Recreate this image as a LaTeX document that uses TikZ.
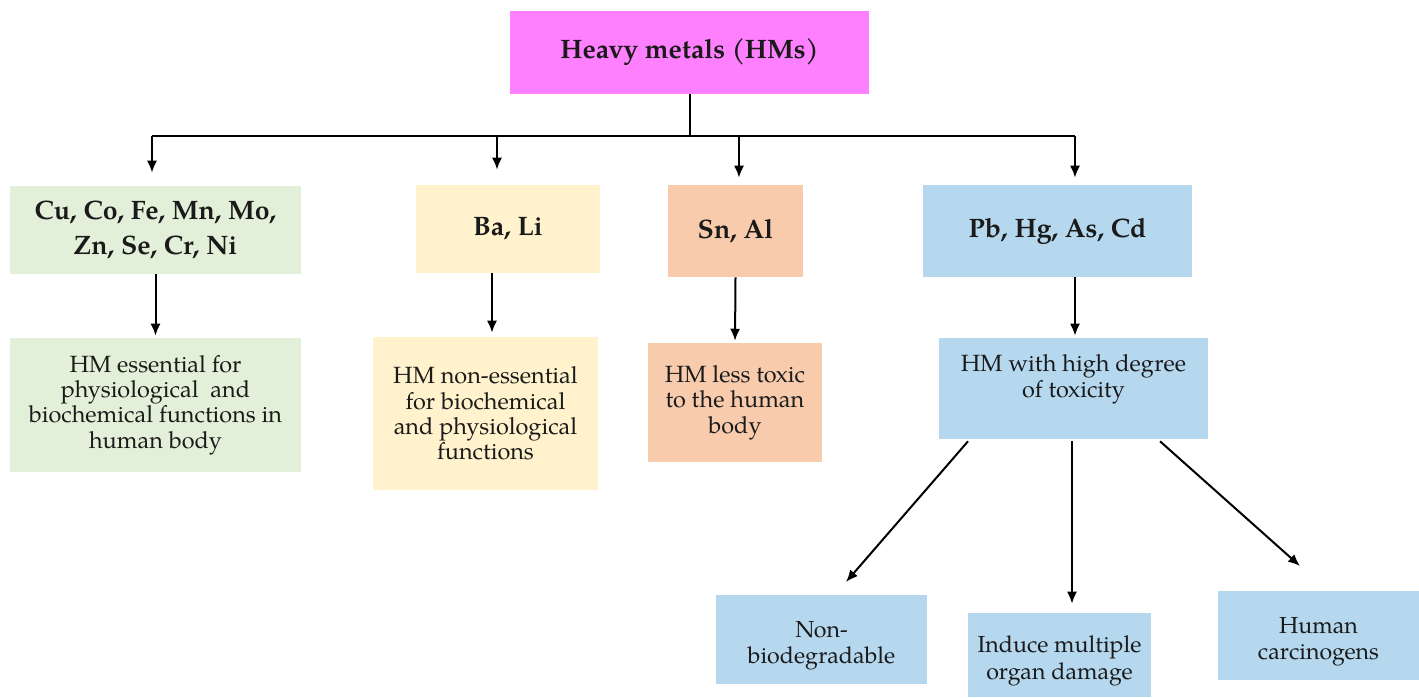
\documentclass[tikz,border=0pt]{standalone}
\usepackage{fontspec}
\setmainfont{TeX Gyre Pagella}
\usetikzlibrary{arrows.meta,calc}
\definecolor{cmag}{HTML}{FF80FF}
\definecolor{cgreen}{HTML}{E2F0D9}
\definecolor{cyel}{HTML}{FFF2CC}
\definecolor{csal}{HTML}{F8CBAD}
\definecolor{cblue}{HTML}{B5D8EF}
\definecolor{ctxt}{HTML}{1A1A1A}
\tikzset{
  box/.style={rectangle, draw=none, inner sep=0pt, align=center, text=ctxt},
  head/.style={box, font=\fontsize{20}{26.5}\selectfont\bfseries},
  body/.style={box, font=\fontsize{17.6}{19}\selectfont},
  low/.style={box, font=\fontsize{17.4}{20}\selectfont},
  arr/.style={line width=1.5pt, -{Latex[length=9pt,width=7.5pt]}},
  ln/.style={line width=1.5pt},
}
\begin{document}
\begin{tikzpicture}[x=0.75pt,y=-0.75pt]
\useasboundingbox (0,0) rectangle (1419,697);
% top
\node[head, fill=cmag, minimum width=359*0.75pt, minimum height=83*0.75pt] (top) at (689.5,52.5) {Heavy metals (HMs)};
% second row
\node[head, fill=cgreen, minimum width=291*0.75pt, minimum height=88*0.75pt] (g1) at (155.5,230) {Cu, Co, Fe, Mn, Mo,\\Zn, Se, Cr, Ni};
\node[head, fill=cyel, minimum width=184*0.75pt, minimum height=88*0.75pt] (y1) at (508,229) {Ba, Li};
\node[head, fill=csal, minimum width=135*0.75pt, minimum height=92*0.75pt] (s1) at (735.5,231) {Sn, Al};
\node[head, fill=cblue, minimum width=269*0.75pt, minimum height=92*0.75pt] (b1) at (1057.5,231) {Pb, Hg, As, Cd};
% third row
\node[body, fill=cgreen, minimum width=291*0.75pt, minimum height=134*0.75pt] (g2) at (155.5,405) {HM essential for\\physiological\ \ and\\biochemical functions in\\human body};
\node[body, fill=cyel, minimum width=225*0.75pt, minimum height=153*0.75pt] (y2) at (485.5,413.5) {HM non-essential\\for biochemical\\and physiological\\functions};
\node[body, fill=csal, minimum width=174*0.75pt, minimum height=119*0.75pt] (s2) at (735,402.5) {HM less toxic\\to the human\\body};
\node[body, fill=cblue, minimum width=269*0.75pt, minimum height=101*0.75pt] (b2) at (1073.5,388.5) {HM with high degree\\of toxicity\\};
% bottom row
\node[low, fill=cblue, minimum width=211*0.75pt, minimum height=89*0.75pt] (bA) at (821.5,639.5) {\mbox{}\\[1.5pt]Non-\\biodegradable};
\node[low, fill=cblue, minimum width=183*0.75pt, minimum height=84*0.75pt] (bB) at (1059.5,655) {\mbox{}\\[1.5pt]Induce multiple\\organ damage};
\node[low, fill=cblue, minimum width=201*0.75pt, minimum height=89*0.75pt] (bC) at (1318.5,635.5) {\mbox{}\\[1.5pt]Human\\carcinogens};
% tree connectors
\coordinate (jn) at (690,136);
\coordinate (d1) at (152,136);
\coordinate (d2) at (497,136);
\coordinate (d3) at (739,136);
\coordinate (d4) at (1075,136);
\draw[ln] (top.south -| jn) -- (jn);
\draw[ln] (d1) -- (d4);
\draw[arr, shorten >=13*0.75pt] (d1) -- (d1 |- g1.north);
\draw[arr, shorten >=15*0.75pt] (d2) -- (d2 |- y1.north);
\draw[arr, shorten >=7*0.75pt] (d3) -- (d3 |- s1.north);
\draw[arr, shorten >=7*0.75pt] (d4) -- (d4 |- b1.north);
% vertical arrows
\draw[arr, shorten >=2*0.75pt] (g1.south) -- (g2.north);
\draw[arr, shorten >=4*0.75pt] ($(y1.south)+(-16,0)$) -- ($(y2.north)+(6.5,0)$);
\draw[arr, shorten >=2*0.75pt] (s1.south) -- (s2.north);
\draw[arr, shorten >=2*0.75pt] ($(b1.south)+(17.5,0)$) -- ($(b2.north)+(1.5,0)$);
% diagonal arrows
\coordinate (eA) at (846,582);
\coordinate (eC) at (1300,566);
\draw[arr] ($(b2.south)+(-105.5,2)$) -- (eA);
\draw[arr, shorten >=9*0.75pt] ($(b2.south)+(-1.5,2)$) -- (bB.north -| 1072,0);
\draw[arr] ($(b2.south)+(86.5,2)$) -- (eC);
\end{tikzpicture}
\end{document}
